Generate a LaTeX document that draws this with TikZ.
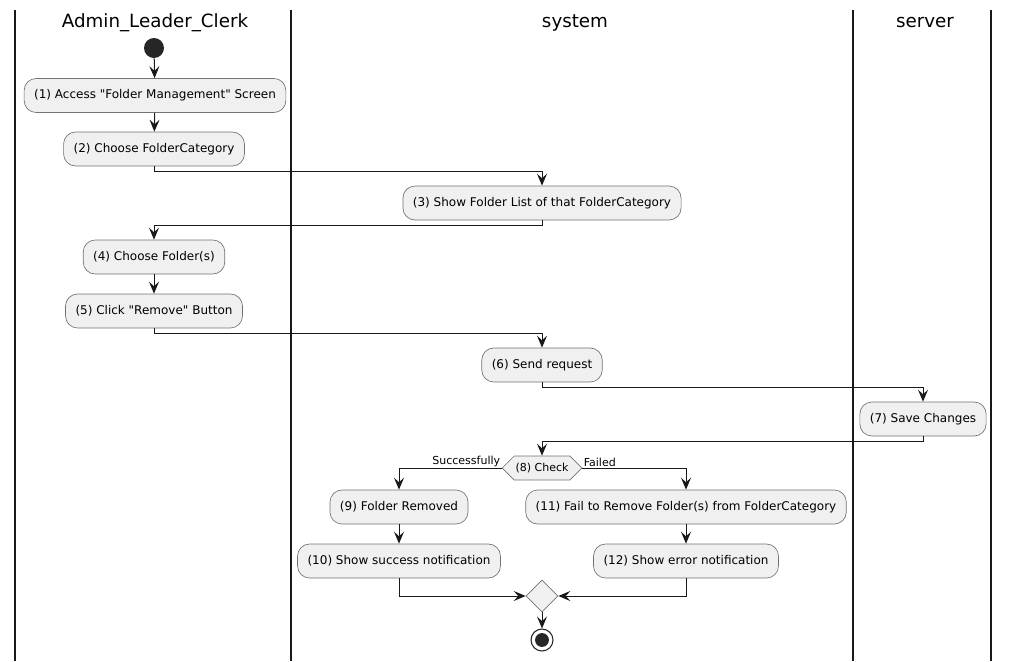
\documentclass[tikz,border=0pt]{standalone}
\usepackage{fontspec}
\setmainfont{DejaVu Sans}[Ligatures=TeXOff]
\usetikzlibrary{arrows.meta,shapes.geometric,shapes.symbols}
\begin{document}
\begin{tikzpicture}[x=0.75pt,y=-0.75pt,
  act/.style={draw=black!55, fill=black!6, rounded corners=9pt, line width=0.5pt,
    font=\fontsize{9pt}{11pt}\selectfont, inner xsep=7.5pt, minimum height=25.5pt},
  lanetitle/.style={font=\fontsize{13.7pt}{16pt}\selectfont, anchor=center},
  lane/.style={line width=1.1pt, black!90},
  flow/.style={line width=0.75pt, black!90, -{Stealth[length=9pt,width=7.5pt,inset=3.5pt]}},
  guard/.style={font=\fontsize{8.25pt}{10pt}\selectfont, inner sep=1pt},
  startnode/.style={circle, fill=black!85, minimum size=15pt, inner sep=0pt},
  endnode/.style={circle, draw=black!85, line width=0.8pt, fill=white, minimum size=16.5pt, inner sep=0pt,
    path picture={\fill[black!85] (path picture bounding box.center) circle (5.2pt);}},
  decision/.style={signal, signal to=west and east, signal pointer angle=90, draw=black!55, fill=black!6,
    line width=0.5pt, font=\fontsize{8.25pt}{10pt}\selectfont, inner xsep=1pt, inner ysep=2pt, minimum height=18pt},
  merge/.style={diamond, draw=black!55, fill=black!6, line width=0.5pt, minimum size=24pt, inner sep=0pt}]
\useasboundingbox (0,0) rectangle (1010,661);

% swimlane borders
\foreach \lx in {15,291,853,991} \draw[lane] (\lx,10) -- (\lx,661);
\node[lanetitle] (t1) at (155,23) {Admin\_Leader\_Clerk};
\node[lanetitle] (t2) at (575,23) {system};
\node[lanetitle] (t3) at (925,23) {server};

% activities
\node[startnode] (start) at (154,48) {};
\node[act] (a1) at (155,95.5) {(1) Access "Folder Management" Screen};
\node[act] (a2) at (154,149) {(2) Choose FolderCategory};
\node[act] (a3) at (542,203) {(3) Show Folder List of that FolderCategory};
\node[act] (a4) at (154,257) {(4) Choose Folder(s)};
\node[act] (a5) at (154,311) {(5) Click "Remove" Button};
\node[act] (a6) at (542,365) {(6) Send request};
\node[act] (a7) at (923,419) {(7) Save Changes};
\node[decision] (d8) at (542,468) {(8) Check};
\node[act] (a9) at (399,507) {(9) Folder Removed};
\node[act] (a10) at (399,561) {(10) Show success notification};
\node[act] (a11) at (686,507) {(11) Fail to Remove Folder(s) from FolderCategory};
\node[act] (a12) at (686,561) {(12) Show error notification};
\node[merge] (m) at (542,596) {};
\node[endnode] (stop) at (542,640) {};

% connectors
\draw[flow] (start) -- (a1);
\draw[flow] (a1) -- (a2);
\draw[flow] (a2.south) -- ++(0,5) -| (a3.north);
\draw[flow] (a3.south) -- ++(0,5) -| (a4.north);
\draw[flow] (a4) -- (a5);
\draw[flow] (a5.south) -- ++(0,5) -| (a6.north);
\draw[flow] (a6.south) -- ++(0,5) -| (a7.north);
\draw[flow] (a7.south) -- ++(0,5) -| (d8.north);
\draw[flow] (d8.west) -| (a9.north);
\draw[flow] (d8.east) -| (a11.north);
\node[guard, anchor=south east] (g1) at (d8.west) {Successfully};
\node[guard, anchor=south west] (g2) at (d8.east) {Failed};
\draw[flow] (a9) -- (a10);
\draw[flow] (a11) -- (a12);
\draw[flow] (a10.south) |- (m.west);
\draw[flow] (a12.south) |- (m.east);
\draw[flow] (m) -- (stop);
\end{tikzpicture}
\end{document}
